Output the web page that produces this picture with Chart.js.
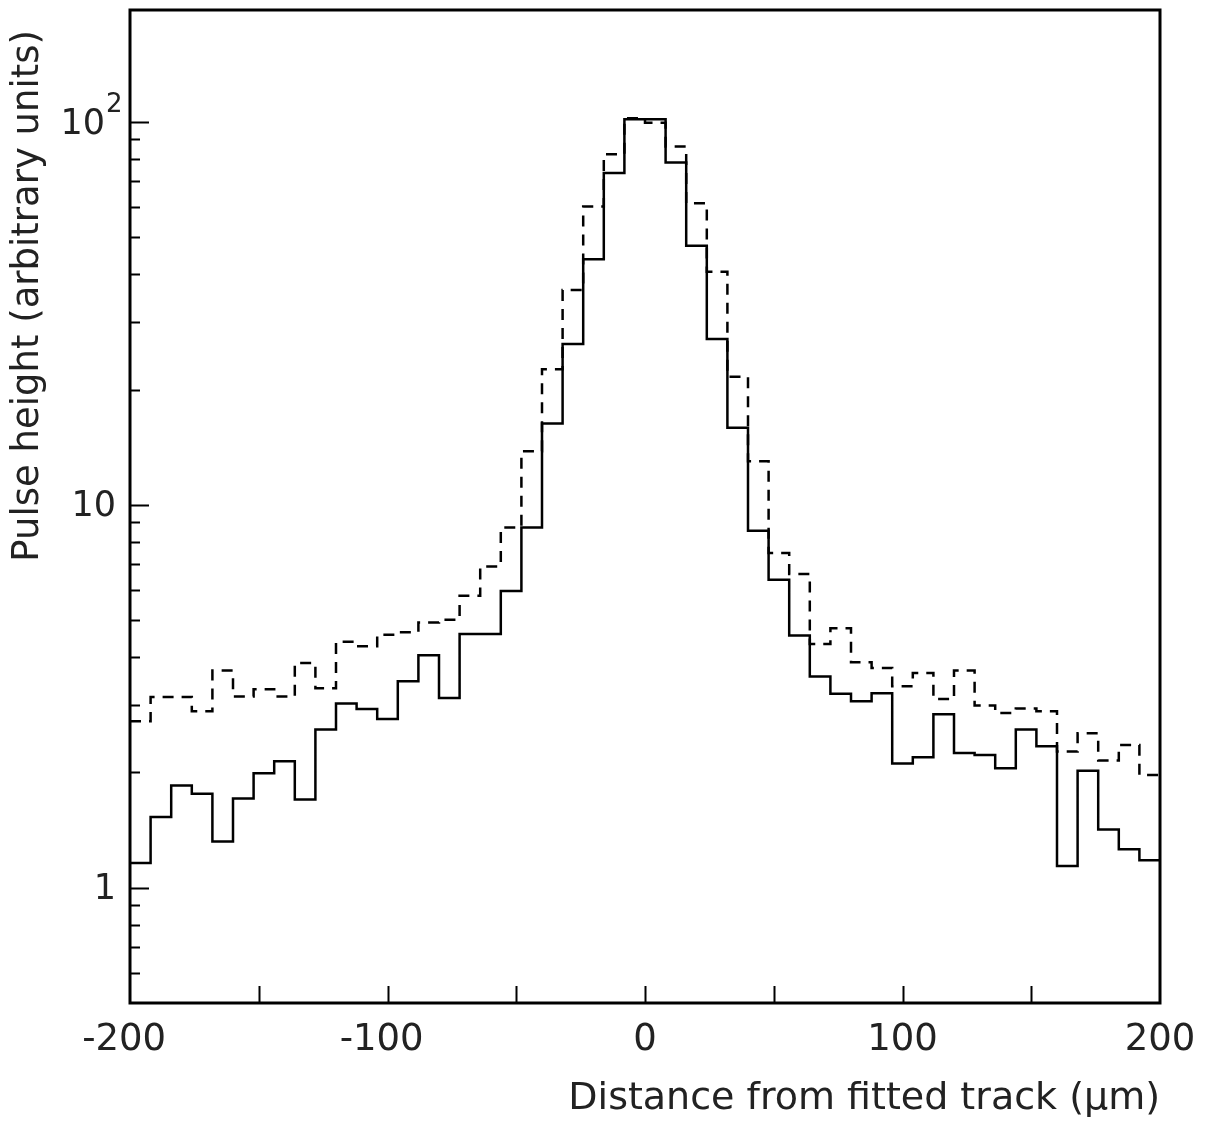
<!DOCTYPE html>
<html>
<head>
<meta charset="UTF-8">
<title>Pulse height vs distance from fitted track</title>
<script src="https://cdn.jsdelivr.net/npm/chart.js"></script>
<style>
  html, body { margin: 0; padding: 0; background: #fff; }
</style>
</head>
<body>
<canvas id="chart" width="1206" height="1124"></canvas>
<script>
// histogram bin edges (um), 8 um wide bins
const binEdges = [-200, -192, -184, -176, -168, -160, -152, -144, -136, -128,
                  -120, -112, -104, -96, -88, -80, -72, -64, -56, -48,
                  -40, -32, -24, -16, -8, 0, 8, 16, 24, 32,
                  40, 48, 56, 64, 72, 80, 88, 96, 104, 112,
                  120, 128, 136, 144, 152, 160, 168, 176, 184, 192, 200];

// solid histogram
const solidValues = [1.16, 1.53, 1.85, 1.76, 1.32, 1.71, 1.99, 2.14, 1.70, 2.59,
                     3.03, 2.93, 2.76, 3.46, 4.05, 3.13, 4.60, 4.60, 5.96, 8.72,
                     16.3, 26.3, 43.8, 73.5, 101.6, 101.6, 78.3, 47.5, 27.1, 15.9,
                     8.55, 6.37, 4.56, 3.56, 3.21, 3.07, 3.22, 2.11, 2.19, 2.84,
                     2.25, 2.22, 2.05, 2.59, 2.34, 1.14, 2.02, 1.42, 1.26, 1.18];

// dashed histogram
const dashedValues = [2.72, 3.15, 3.15, 2.89, 3.69, 3.16, 3.30, 3.16, 3.86, 3.32,
                      4.39, 4.27, 4.58, 4.65, 4.93, 5.01, 5.79, 6.90, 8.72, 13.8,
                      22.6, 36.4, 60.1, 82.3, 102.2, 99.5, 86.2, 61.3, 40.6, 21.6,
                      13.0, 7.48, 6.60, 4.33, 4.76, 3.88, 3.75, 3.36, 3.64, 3.11,
                      3.69, 2.99, 2.86, 2.94, 2.89, 2.27, 2.53, 2.15, 2.36, 1.97];

// axis ticks
const xTickValues = [-150, -100, -50, 0, 50, 100, 150];
const xLabelValues = [-200, -100, 0, 100, 200];
const yTickValues = [0.6, 0.7, 0.8, 0.9, 1, 2, 3, 4, 5, 6, 7, 8, 9,
                     10, 20, 30, 40, 50, 60, 70, 80, 90, 100];
const yLabelValues = [1, 10, 100];

const FONT = "'DejaVu Sans', 'Liberation Sans', sans-serif";
const INK = '#222';

// turn bins into step points (left edges + final right edge)
function toSteps(values) {
    const pts = values.map((v, i) => ({ x: binEdges[i], y: v }));
    pts.push({ x: binEdges[binEdges.length - 1], y: values[values.length - 1] });
    return pts;
}

// frame, inward tick marks, y labels and y title
const frameTicks = {
    id: 'frameTicks',
    afterDraw(chart) {
        const { ctx, chartArea: a, scales: { x, y } } = chart;
        ctx.save();
        ctx.strokeStyle = '#000';
        ctx.lineWidth = 2;
        ctx.beginPath();
        xTickValues.forEach(v => {
            const px = Math.round(x.getPixelForValue(v)) + 0.5;
            ctx.moveTo(px, a.bottom);
            ctx.lineTo(px, a.bottom - 17);
        });
        yTickValues.forEach(v => {
            const py = Math.round(y.getPixelForValue(v)) + 0.5;
            const len = yLabelValues.includes(v) ? 19 : 10;
            ctx.moveTo(a.left, py);
            ctx.lineTo(a.left + len, py);
        });
        ctx.stroke();
        ctx.lineWidth = 3;
        ctx.strokeRect(a.left, a.top, a.right - a.left, a.bottom - a.top);

        // y tick labels (10^2 with a raised exponent)
        ctx.fillStyle = INK;
        ctx.textBaseline = 'middle';
        yLabelValues.forEach(v => {
            const py = y.getPixelForValue(v);
            ctx.font = '35px ' + FONT;
            if (v === 100) {
                ctx.textAlign = 'right';
                ctx.fillText('10', a.left - 25, py + 3);
                ctx.textAlign = 'left';
                ctx.font = '26px ' + FONT;
                ctx.fillText('2', a.left - 24, py - 17);
            } else {
                ctx.textAlign = 'right';
                ctx.fillText(String(v), a.left - 14, py + 2);
            }
        });

        // y axis title, rotated, aligned towards the top
        ctx.save();
        ctx.translate(28, a.top + 20);
        ctx.rotate(-Math.PI / 2);
        ctx.textAlign = 'right';
        ctx.textBaseline = 'middle';
        ctx.font = '37px ' + FONT;
        ctx.fillText('Pulse height (arbitrary units)', 0, 0);
        ctx.restore();

        ctx.restore();
    }
};

new Chart(document.getElementById('chart'), {
    type: 'line',
    data: {
        datasets: [
            {
                label: 'solid',
                data: toSteps(solidValues),
                stepped: 'before',
                borderColor: '#000',
                borderWidth: 2.5,
                pointRadius: 0,
                fill: false
            },
            {
                label: 'dashed',
                data: toSteps(dashedValues),
                stepped: 'before',
                borderColor: '#000',
                borderWidth: 2.5,
                borderDash: [11, 8],
                pointRadius: 0,
                fill: false
            }
        ]
    },
    options: {
        responsive: false,
        animation: false,
        layout: { padding: { top: 10, right: 46, left: 0, bottom: 0 } },
        plugins: {
            legend: { display: false },
            tooltip: { enabled: false }
        },
        scales: {
            x: {
                type: 'linear',
                min: -200,
                max: 200,
                afterFit: s => { s.height = 121; s.paddingLeft = 0; s.paddingRight = 0; },
                grid: { display: false, drawTicks: false },
                border: { display: false },
                ticks: {
                    stepSize: 50,
                    autoSkip: false,
                    maxRotation: 0,
                    padding: 15,
                    color: INK,
                    font: { family: FONT, size: 37 },
                    // trailing space keeps the digits centred under the tick
                    callback: v => xLabelValues.includes(v) ? (v < 0 ? String(v) + ' ' : String(v)) : ''
                },
                title: {
                    display: true,
                    text: 'Distance from fitted track (\u03BCm)',
                    align: 'end',
                    color: INK,
                    font: { family: FONT, size: 38 },
                    padding: { top: 0, bottom: 2 }
                }
            },
            y: {
                type: 'logarithmic',
                min: 0.5,
                max: 196,
                afterFit: s => { s.width = 130; s.paddingTop = 0; s.paddingBottom = 0; },
                grid: { display: false, drawTicks: false },
                border: { display: false },
                ticks: { display: false },
                title: { display: false }
            }
        }
    },
    plugins: [frameTicks]
});
</script>
</body>
</html>
